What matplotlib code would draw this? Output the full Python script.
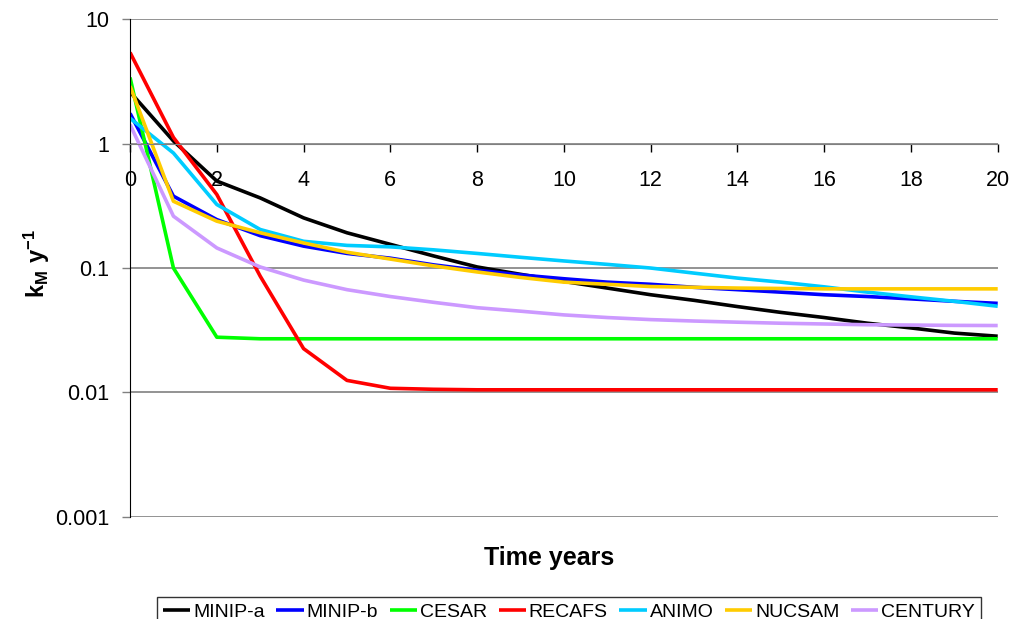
import matplotlib
matplotlib.use("Agg")
import matplotlib.pyplot as plt

plt.rcParams['font.family'] = ['Liberation Sans', 'DejaVu Sans']
plt.rcParams['mathtext.fontset'] = 'custom'
plt.rcParams['mathtext.rm'] = 'Liberation Sans'
plt.rcParams['mathtext.bf'] = 'Liberation Sans:bold'

years = list(range(21))

minip_a = [2.6, 1.05, 0.50, 0.366, 0.253, 0.192, 0.155, 0.125, 0.102, 0.089, 0.078,
           0.069, 0.061, 0.055, 0.049, 0.044, 0.040, 0.036, 0.033, 0.030, 0.0283]
minip_b = [1.75, 0.378, 0.245, 0.182, 0.150, 0.131, 0.120, 0.106, 0.096, 0.088, 0.082,
           0.077, 0.074, 0.070, 0.067, 0.064, 0.061, 0.059, 0.0565, 0.054, 0.052]
cesar = [3.4, 0.10, 0.0278, 0.027, 0.027, 0.027, 0.027, 0.027, 0.027, 0.027, 0.027,
         0.027, 0.027, 0.027, 0.027, 0.027, 0.027, 0.027, 0.027, 0.027, 0.027]
recafs = [5.4, 1.12, 0.39, 0.086, 0.0225, 0.0125, 0.0108, 0.0106, 0.0105, 0.0105, 0.0105,
          0.0105, 0.0105, 0.0105, 0.0105, 0.0105, 0.0105, 0.0105, 0.0105, 0.0105, 0.0105]
animo = [1.6, 0.84, 0.324, 0.204, 0.164, 0.152, 0.148, 0.140, 0.131, 0.122, 0.114,
         0.107, 0.100, 0.091, 0.083, 0.077, 0.0706, 0.064, 0.0587, 0.054, 0.0493]
nucsam = [2.9, 0.344, 0.238, 0.192, 0.159, 0.134, 0.118, 0.104, 0.093, 0.084, 0.077,
          0.074, 0.071, 0.070, 0.069, 0.0685, 0.068, 0.068, 0.068, 0.068, 0.068]
century = [1.42, 0.261, 0.145, 0.102, 0.080, 0.067, 0.059, 0.053, 0.048, 0.045, 0.042,
           0.040, 0.0385, 0.0375, 0.0367, 0.036, 0.0355, 0.035, 0.0348, 0.0346, 0.0345]

series = [
    ("MINIP-a", minip_a, "#000000"),
    ("MINIP-b", minip_b, "#0000FF"),
    ("CESAR", cesar, "#00FF00"),
    ("RECAFS", recafs, "#FF0000"),
    ("ANIMO", animo, "#00CCFF"),
    ("NUCSAM", nucsam, "#FFCC00"),
    ("CENTURY", century, "#CC99FF"),
]

fig = plt.figure(figsize=(10.16, 6.19), dpi=100)
ax = fig.add_axes([0.128, 0.165, 0.854, 0.804])

for name, vals, col in series:
    ax.plot(years, vals, color=col, lw=2.6, label=name, solid_capstyle='butt')

ax.set_yscale('log')
ax.set_ylim(0.001, 10)
ax.set_xlim(0, 20)
ax.set_yticks([0.001, 0.01, 0.1, 1, 10])
ax.set_yticklabels(["0.001", "0.01", "0.1", "1", "10"])
ax.minorticks_off()
ax.set_xticks(range(0, 21, 2))

ax.grid(axis='y', color='#808080', lw=1.2)
ax.set_axisbelow(True)

ax.spines['top'].set_visible(False)
ax.spines['right'].set_visible(False)
ax.spines['bottom'].set_position(('data', 1))
ax.spines['bottom'].set_color('#808080')
ax.spines['left'].set_color('black')

ax.tick_params(axis='both', labelsize=15.5, direction='out', length=6, width=1)
ax.tick_params(axis='x', color='black', pad=13)
ax.tick_params(axis='y', color='#808080', pad=9)

fig.text(0.540, 0.098, "Time years", fontsize=18, fontweight='bold', ha='center', va='center')
fig.text(0.036, 0.574, r"$\mathbf{k_M\ y^{-1}}$", fontsize=17, rotation=90,
         ha='center', va='center')

leg = fig.legend(loc='lower center', bbox_to_anchor=(0.560, -0.012), ncol=7,
                 fontsize=14, frameon=True, fancybox=False, edgecolor='black',
                 handlelength=1.4, handletextpad=0.15, columnspacing=0.6,
                 borderpad=0.3, borderaxespad=0)
leg.get_frame().set_linewidth(1.0)

fig.savefig("out.png", dpi=100)
